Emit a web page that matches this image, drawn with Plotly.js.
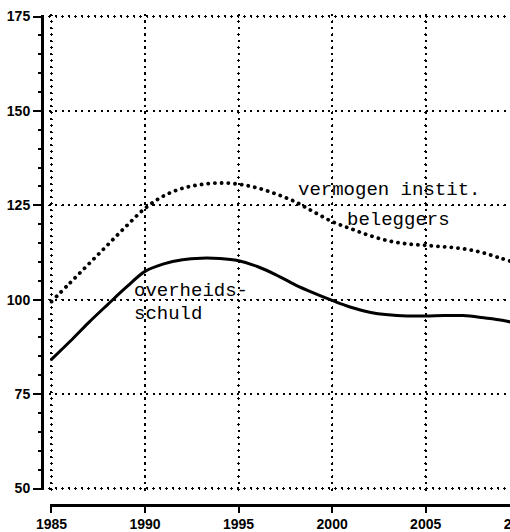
<!DOCTYPE html>
<html>
<head>
<meta charset="utf-8">
<script src="https://cdn.plot.ly/plotly-3.0.1.min.js"></script>
<style>
html,body{margin:0;padding:0;overflow:hidden;background:#fff;}
#chart{width:560px;height:532px;}
#chart path.js-line, #chart path.xgrid, #chart path.ygrid{stroke-linecap:round;}
</style>
</head>
<body>
<div id="chart"></div>
<script>
// Data
const years = [1985,1986,1987,1988,1989,1990,1991,1992,1993,1994,1995,1996,1997,1998,1999,2000,2001,2002,2003,2004,2005,2006,2007,2008,2009,2010];
const overheidsschuld = [84.2,89.0,94.0,98.7,103.3,107.5,109.5,110.6,111.0,110.9,110.3,108.8,106.6,104.0,101.8,99.8,98.0,96.7,96.0,95.7,95.7,95.8,95.8,95.3,94.6,93.6];
const vermogenInstBeleggers = [99.5,104.5,109.5,114.5,119.5,124.2,127.5,129.5,130.5,130.9,130.6,129.6,128.0,126.0,123.3,120.7,118.8,117.0,115.6,114.8,114.4,114.0,113.5,112.5,111.0,109.5];
const xTicks = [1985,1990,1995,2000,2005,2010];
const yTicks = [50,75,100,125,150,175];
const labelTexts = ["vermogen instit.","beleggers","overheids-","schuld"];
const labelX = [1998.05,2000.7,1989.3,1989.3];
const labelY = [129.0,121.2,102.3,96.1];

const traces = [
  {x: years, y: vermogenInstBeleggers, mode:'lines', type:'scatter',
   line:{color:'#000', width:3.8, dash:'0.1px,6.6px', shape:'spline', smoothing:1}, hoverinfo:'skip'},
  {x: years, y: overheidsschuld, mode:'lines', type:'scatter',
   line:{color:'#000', width:3, shape:'spline', smoothing:1}, hoverinfo:'skip'}
];

const tickFont = {family:'"Liberation Sans", Arial, sans-serif', size:14, color:'#000', weight:'bold'};
const annFont = {family:'"Liberation Mono", "Courier New", monospace', size:19, color:'#000'};

const annotations = labelTexts.map((t,i)=>({
  x: labelX[i], y: labelY[i], xref:'x', yref:'y', text:t, showarrow:false,
  xanchor:'left', yanchor:'middle', font: annFont
}));

const layout = {
  width:560, height:532,
  margin:{l:42, r:37, t:15, b:27},
  paper_bgcolor:'#fff', plot_bgcolor:'#fff',
  showlegend:false,
  xaxis:{
    domain:[0.0158,1], range:[1984.9,2010.2], anchor:'free', position:0,
    tickmode:'array', tickvals:xTicks, ticktext:xTicks.map(String),
    showline:true, linecolor:'#000', linewidth:2.5,
    ticks:'outside', ticklen:6, tickwidth:2, tickcolor:'#000',
    showgrid:true, gridcolor:'#000', gridwidth:2.4, griddash:'0.1px,6.4px',
    zeroline:false, tickfont:tickFont
  },
  yaxis:{
    domain:[0.0306,1], range:[49.6,175.4], anchor:'free', position:0,
    tickmode:'array', tickvals:yTicks, ticktext:yTicks.map(String),
    showline:true, linecolor:'#000', linewidth:2.5,
    ticks:'outside', ticklen:8, tickwidth:2, tickcolor:'#000',
    minor:{dtick:5, tick0:50, ticks:'outside', ticklen:3, tickwidth:2, tickcolor:'#000', showgrid:false},
    showgrid:true, gridcolor:'#000', gridwidth:2.4, griddash:'0.1px,6.4px',
    zeroline:false, tickfont:tickFont
  },
  annotations: annotations
};

Plotly.newPlot('chart', traces, layout, {staticPlot:true, displayModeBar:false});
</script>
</body>
</html>
